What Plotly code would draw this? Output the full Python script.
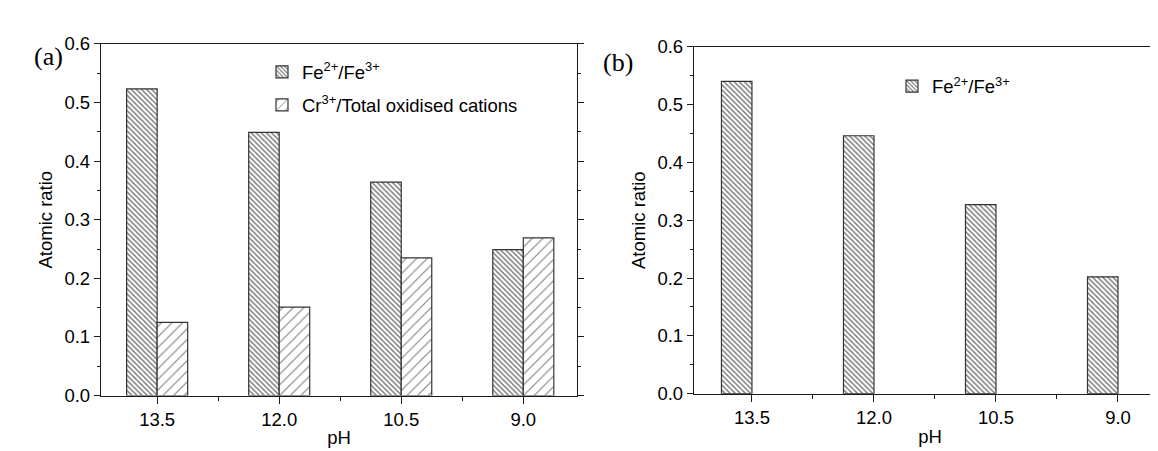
import plotly.graph_objects as go

# ---- data ----
ph_labels = ["13.5", "12.0", "10.5", "9.0"]
fe_ratio_a = [0.523, 0.449, 0.364, 0.249]
cr_ratio_a = [0.125, 0.151, 0.235, 0.269]
fe_ratio_b = [0.540, 0.446, 0.327, 0.202]

idx = list(range(len(ph_labels)))

W, H = 1158, 451
FONT = "Liberation Sans, Arial, sans-serif"
SERIF = "Liberation Serif, Times New Roman, serif"
LINE = "#1a1a1a"
FS = 18.5

fe_pattern = dict(shape="\\", size=3.6, solidity=0.42, fgcolor="black", bgcolor="white")
cr_pattern = dict(shape="/", size=7.5, solidity=0.14, fgcolor="black", bgcolor="white")
bar_line = dict(color="#333", width=1.2)

fig = go.Figure()
fig.add_trace(go.Bar(x=idx, y=fe_ratio_a, width=0.25, offset=-0.25,
                     name="Fe<sup>2+</sup>/Fe<sup>3+</sup>", legendgroup="fe",
                     marker=dict(color="white", line=bar_line, pattern=fe_pattern),
                     xaxis="x", yaxis="y", legend="legend"))
fig.add_trace(go.Bar(x=idx, y=cr_ratio_a, width=0.25, offset=0.0,
                     name="Cr<sup>3+</sup>/Total oxidised cations", legendgroup="cr",
                     marker=dict(color="white", line=bar_line, pattern=cr_pattern),
                     xaxis="x", yaxis="y", legend="legend"))
fig.add_trace(go.Bar(x=idx, y=fe_ratio_b, width=0.25, offset=-0.25,
                     name="Fe<sup>2+</sup>/Fe<sup>3+</sup>",
                     marker=dict(color="white", line=bar_line, pattern=fe_pattern),
                     xaxis="x2", yaxis="y2", legend="legend2"))

def px_x(p):
    return p / W

def px_y(p):
    return 1 - p / H

xa_dom = [px_x(93), px_x(569)]
ya_dom = [px_y(395), px_y(26)]
xb_dom = [px_x(686), 1.0]
yb_dom = [px_y(393), px_y(29)]

xr_a = [-0.46, 3.44]
xr_b = [-0.475, (W - 744) / 122.0]

common_x = dict(
    tickmode="array", tickvals=idx, ticktext=ph_labels,
    ticks="outside", ticklen=7, tickwidth=1, tickcolor=LINE,
    minor=dict(tickvals=[0.5, 1.5, 2.5], ticks="outside", ticklen=4, tickcolor=LINE, tickwidth=1),
    showline=True, linecolor=LINE, linewidth=1.3, showgrid=False, zeroline=False,
    tickfont=dict(family=FONT, size=FS, color="black"),
    title=dict(text="pH", font=dict(family=FONT, size=FS, color="black"), standoff=2),
)
common_y = dict(
    range=[0, 0.6], tickmode="linear", tick0=0, dtick=0.1, tickformat=".1f",
    ticks="outside", ticklen=6, tickwidth=1, tickcolor=LINE,
    minor=dict(dtick=0.05, ticks="outside", ticklen=3, tickcolor=LINE, tickwidth=1),
    showline=True, linecolor=LINE, linewidth=1.3, showgrid=False, zeroline=False,
    tickfont=dict(family=FONT, size=FS, color="black"),
    title=dict(text="Atomic ratio", font=dict(family=FONT, size=FS, color="black"), standoff=6),
)

top_ticks = dict(tickmode="array", tickvals=[0, 0.5, 1, 1.5, 2, 2.5, 3], ticks="inside",
                 ticklen=3, tickcolor=LINE, showticklabels=False, showline=False,
                 showgrid=False, zeroline=False, side="top")

fig.update_layout(
    width=W, height=H,
    margin=dict(l=0, r=0, t=0, b=0),
    paper_bgcolor="white", plot_bgcolor="white",
    font=dict(family=FONT, size=FS, color="black"),
    barmode="overlay",
    xaxis=dict(domain=xa_dom, range=xr_a, anchor="y", mirror=True, **common_x),
    yaxis=dict(domain=ya_dom, anchor="x", mirror="allticks", **common_y),
    xaxis2=dict(domain=xb_dom, range=xr_b, anchor="y2", mirror=True, **common_x),
    yaxis2=dict(domain=yb_dom, anchor="x2", **common_y),
    xaxis3=dict(overlaying="x", anchor="y", range=xr_a, **top_ticks),
    xaxis4=dict(overlaying="x2", anchor="y2", range=xr_b, **top_ticks),
    legend=dict(x=px_x(254), y=px_y(36), xanchor="left", yanchor="top",
                bgcolor="rgba(0,0,0,0)", font=dict(family=FONT, size=FS, color="black"),
                tracegroupgap=6),
    legend2=dict(x=px_x(884), y=px_y(51), xanchor="left", yanchor="top",
                 bgcolor="rgba(0,0,0,0)", font=dict(family=FONT, size=FS, color="black")),
    showlegend=True,
    annotations=[
        dict(text="(a)", x=px_x(24), y=px_y(22), xref="paper", yref="paper",
             showarrow=False, font=dict(family=SERIF, size=26, color="black")),
        dict(text="(b)", x=px_x(610), y=px_y(28), xref="paper", yref="paper",
             showarrow=False, font=dict(family=SERIF, size=26, color="black")),
    ],
)

fig.write_html("out.html")
